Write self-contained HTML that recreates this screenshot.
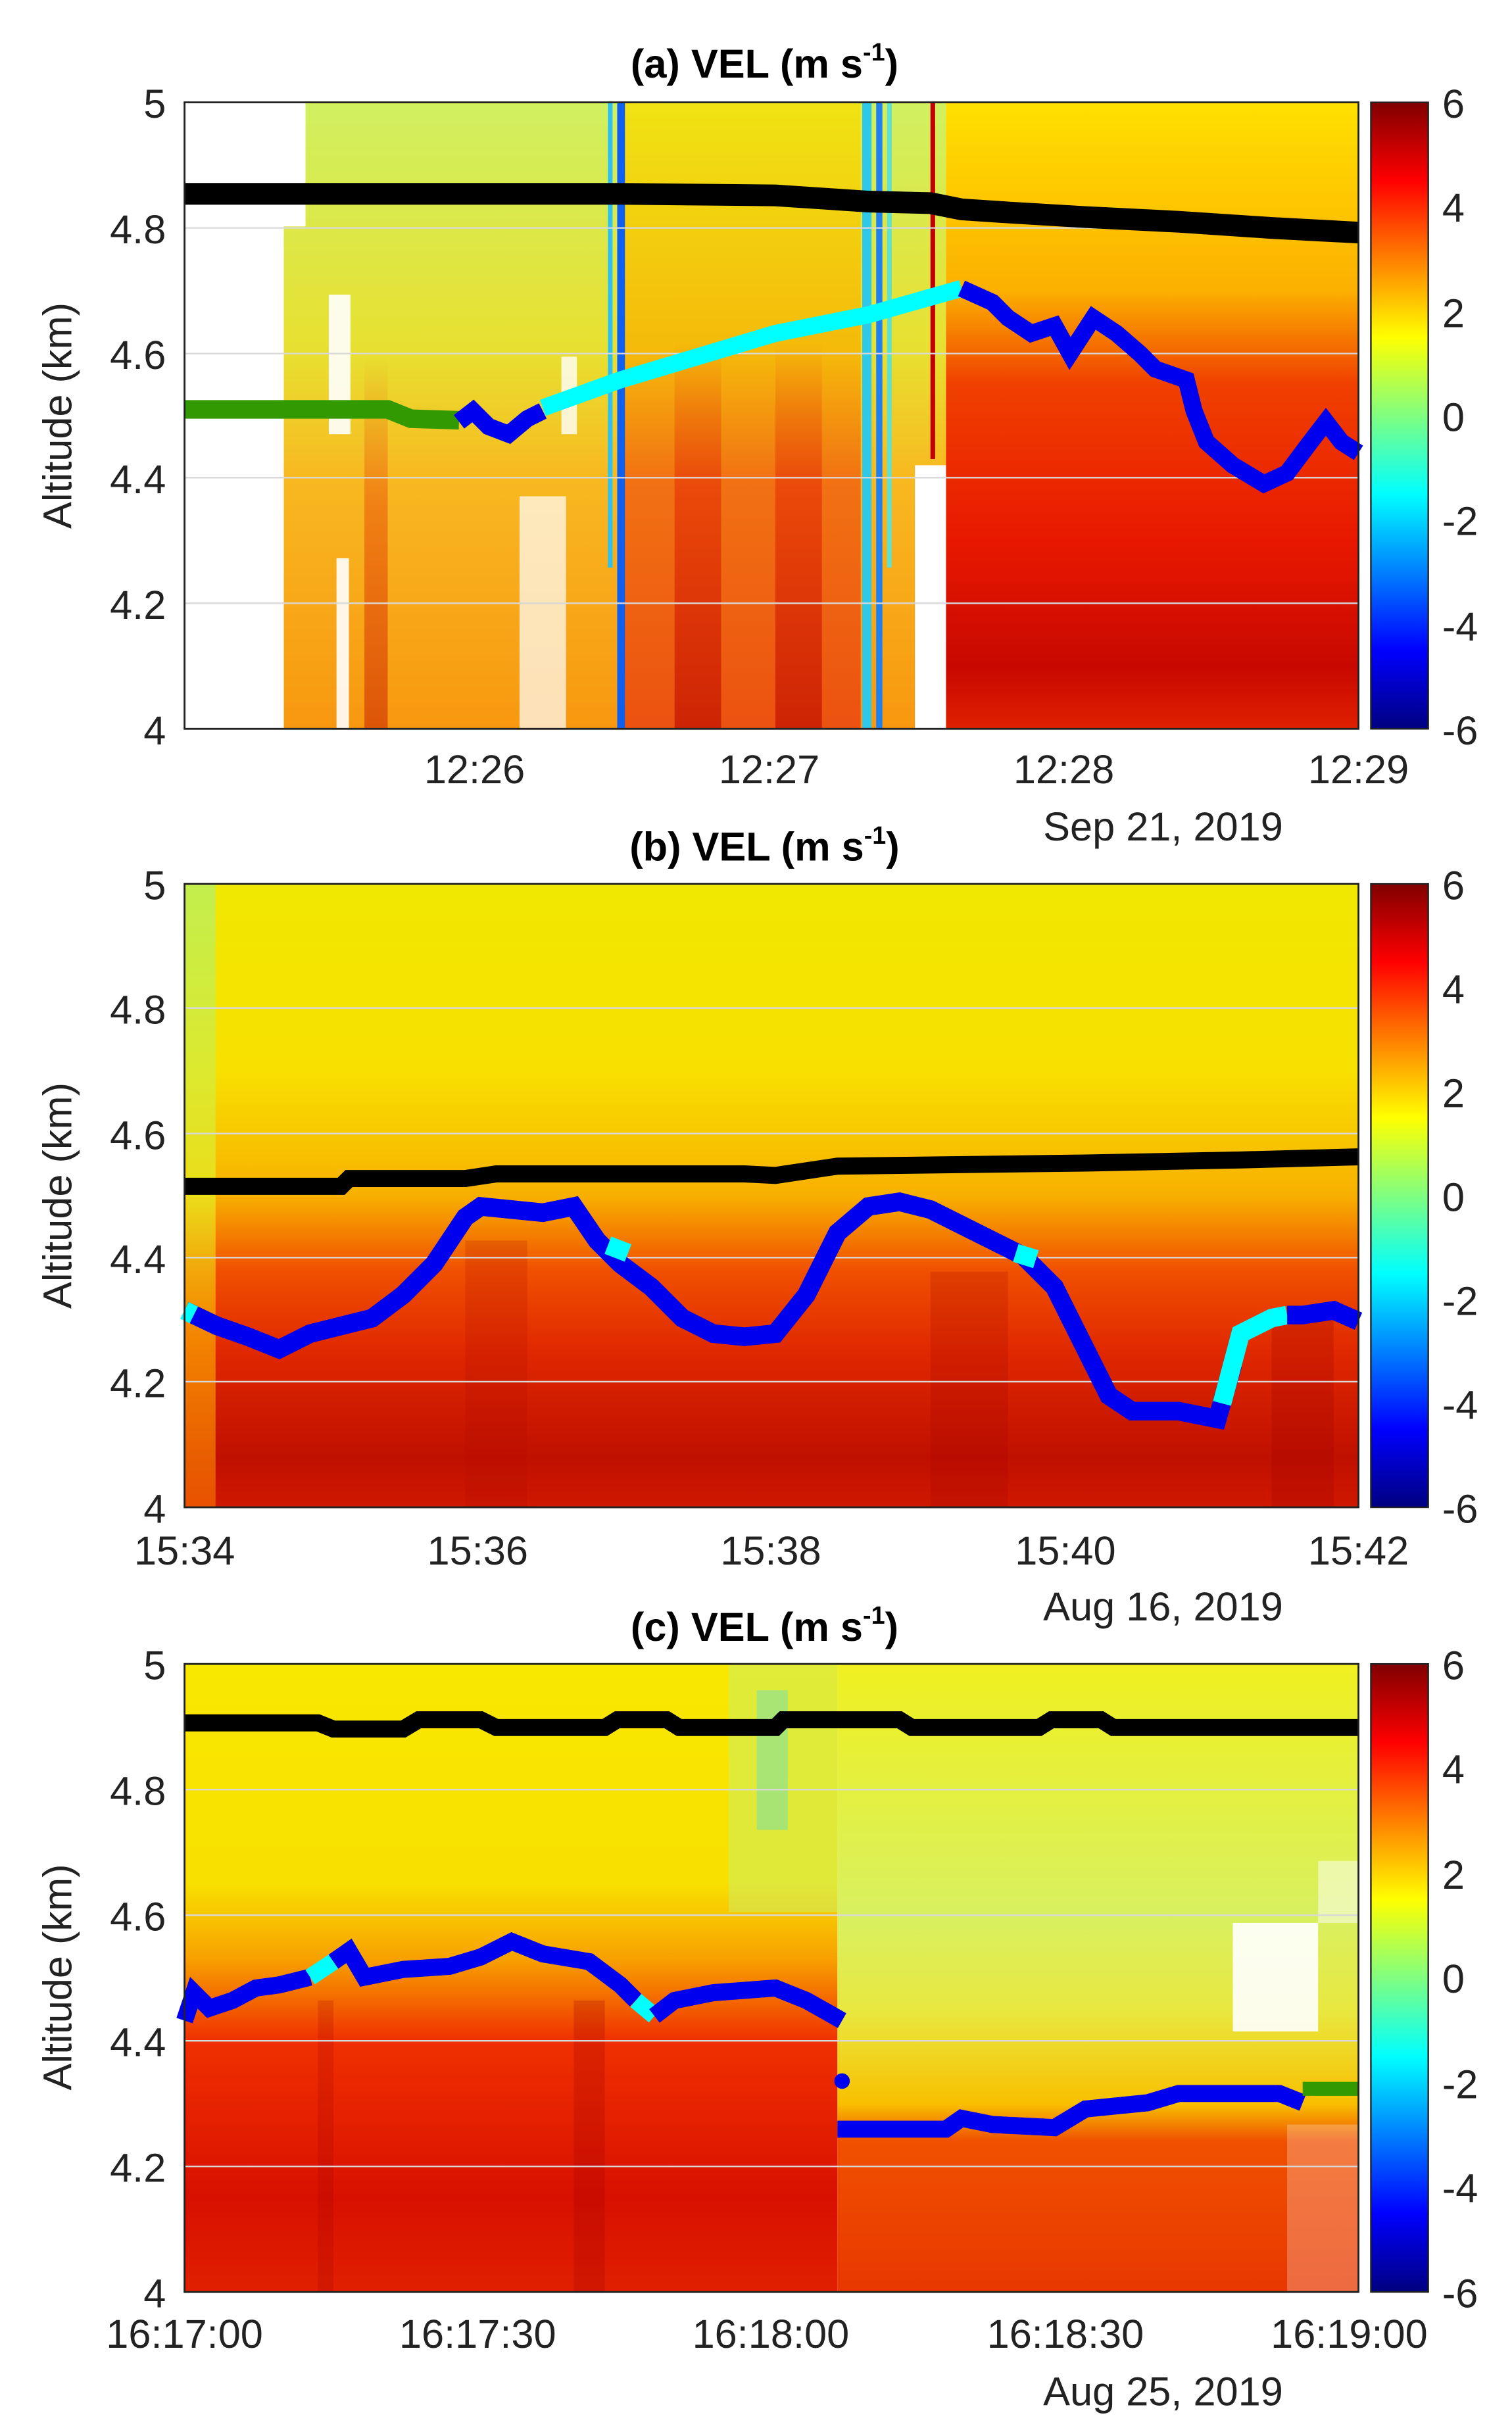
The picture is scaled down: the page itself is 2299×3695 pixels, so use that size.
<!DOCTYPE html>
<html><head><meta charset="utf-8"><style>html,body{margin:0;padding:0;background:#fff}svg{display:block}</style></head>
<body>
<svg width="2299" height="3695" viewBox="0 0 975 1567" preserveAspectRatio="none" xmlns="http://www.w3.org/2000/svg" font-family="Liberation Sans, sans-serif">
<defs>
<linearGradient id="jet" x1="0" y1="0" x2="0" y2="1">
<stop offset="0" stop-color="#800000"/><stop offset="0.125" stop-color="#ff0000"/><stop offset="0.375" stop-color="#ffff00"/><stop offset="0.5" stop-color="#80ff80"/><stop offset="0.625" stop-color="#00ffff"/><stop offset="0.875" stop-color="#0000ff"/><stop offset="1" stop-color="#000080"/></linearGradient>
<linearGradient id="aL" x1="0" y1="0" x2="0" y2="1">
<stop offset="0" stop-color="#d0f060"/><stop offset="0.4" stop-color="#e8e030"/><stop offset="0.6" stop-color="#f8b820"/><stop offset="1" stop-color="#f89810"/></linearGradient>
<linearGradient id="aM" x1="0" y1="0" x2="0" y2="1">
<stop offset="0" stop-color="#f8e000"/><stop offset="0.4" stop-color="#f8b000"/><stop offset="0.6" stop-color="#f06010"/><stop offset="1" stop-color="#e84010"/></linearGradient>
<linearGradient id="aR" x1="0" y1="0" x2="0" y2="1">
<stop offset="0" stop-color="#ffe000"/><stop offset="0.3" stop-color="#fcb000"/><stop offset="0.45" stop-color="#f04000"/><stop offset="0.7" stop-color="#e81800"/><stop offset="0.9" stop-color="#c80800"/><stop offset="1" stop-color="#e02000"/></linearGradient>
<linearGradient id="red" x1="0" y1="0" x2="0" y2="1">
<stop offset="0" stop-color="#e02000" stop-opacity="0"/><stop offset="0.4" stop-color="#e02000" stop-opacity="0.5"/><stop offset="1" stop-color="#c01000" stop-opacity="0.7"/></linearGradient>
<linearGradient id="bG" x1="0" y1="0" x2="0" y2="1">
<stop offset="0" stop-color="#f0e800"/><stop offset="0.3" stop-color="#f8e000"/><stop offset="0.5" stop-color="#f8b000"/><stop offset="0.62" stop-color="#f05000"/><stop offset="0.75" stop-color="#e02800"/><stop offset="0.92" stop-color="#c01000"/><stop offset="1" stop-color="#d01800"/></linearGradient>
<linearGradient id="bL" x1="0" y1="0" x2="0" y2="1">
<stop offset="0" stop-color="#b8f060"/><stop offset="0.5" stop-color="#e8e820"/><stop offset="0.7" stop-color="#f8a000"/><stop offset="1" stop-color="#f06000"/></linearGradient>
<linearGradient id="cL" x1="0" y1="0" x2="0" y2="1">
<stop offset="0" stop-color="#f8e800"/><stop offset="0.35" stop-color="#f8e000"/><stop offset="0.47" stop-color="#f8a000"/><stop offset="0.6" stop-color="#f03000"/><stop offset="0.85" stop-color="#d81000"/><stop offset="1" stop-color="#e02000"/></linearGradient>
<linearGradient id="cR" x1="0" y1="0" x2="0" y2="1">
<stop offset="0" stop-color="#f0f020"/><stop offset="0.4" stop-color="#d8f060"/><stop offset="0.55" stop-color="#e8e840"/><stop offset="0.7" stop-color="#f8c000"/><stop offset="0.76" stop-color="#f05000"/><stop offset="1" stop-color="#e83800"/></linearGradient>
</defs>

<!-- ===== Panel A ===== -->
<text x="493" y="50" font-size="26" font-weight="bold" text-anchor="middle">(a) VEL (m s<tspan font-size="16" dy="-11">-1</tspan><tspan dy="11">)</tspan></text>
<rect x="119" y="66" width="757" height="404" fill="#fff"/>
<rect x="183" y="66" width="427" height="404" fill="url(#aL)"/>
<rect x="400" y="66" width="155" height="404" fill="url(#aM)" opacity="0.8"/>
<rect x="610" y="66" width="266" height="404" fill="url(#aR)"/>
<rect x="183" y="66" width="14" height="80" fill="#fff"/>
<rect x="212" y="190" width="14" height="90" fill="#fff" opacity="0.9"/>
<rect x="217" y="360" width="8" height="110" fill="#fff" opacity="0.9"/>
<rect x="335" y="320" width="30" height="150" fill="#fff" opacity="0.7"/>
<rect x="362" y="230" width="10" height="50" fill="#fff" opacity="0.8"/>
<rect x="590" y="300" width="20" height="170" fill="#fff"/>
<rect x="435" y="220" width="30" height="250" fill="url(#red)"/>
<rect x="500" y="220" width="30" height="250" fill="url(#red)"/>
<rect x="235" y="230" width="15" height="240" fill="url(#red)" opacity="0.7"/>
<rect x="398" y="66" width="5" height="404" fill="#1060f0"/>
<rect x="392" y="66" width="3" height="300" fill="#30c0f0"/>
<rect x="556" y="66" width="6" height="404" fill="#30c8e8"/>
<rect x="565" y="66" width="4" height="404" fill="#2080f0"/>
<rect x="572" y="66" width="3" height="300" fill="#60e0d0"/>
<rect x="600" y="66" width="3" height="230" fill="#c00000"/>
<g stroke="#d8d8d8" stroke-width="1"><line x1="119" y1="147" x2="876" y2="147"/><line x1="119" y1="228" x2="876" y2="228"/><line x1="119" y1="308" x2="876" y2="308"/><line x1="119" y1="389" x2="876" y2="389"/></g>
<polyline fill="none" stroke="#000" stroke-width="14" points="119,125 300,125 400,125 500,126 560,130 600,131 620,135 650,137 700,140 760,143 820,147 876,150"/>
<polyline fill="none" stroke="#339900" stroke-width="12" points="119,264 250,264 265,270 296,271"/>
<polyline fill="none" stroke="#0000ee" stroke-width="11" points="296,272 305,265 315,275 328,280 340,270 350,265"/>
<polyline fill="none" stroke="#00ffff" stroke-width="11" points="350,263 400,245 450,230 500,215 560,203 620,186"/>
<polyline fill="none" stroke="#0000ee" stroke-width="11" points="620,186 640,195 650,205 665,215 680,210 690,228 705,205 720,215 735,228 745,238 765,245 770,265 778,285 795,300 815,312 830,305 845,285 855,272 865,285 876,292"/>
<rect x="119" y="66" width="757" height="404" fill="none" stroke="#222" stroke-width="1.2"/>
<g font-size="26" fill="#222" text-anchor="end"><text x="107" y="76">5</text><text x="107" y="157">4.8</text><text x="107" y="238">4.6</text><text x="107" y="318">4.4</text><text x="107" y="399">4.2</text><text x="107" y="480">4</text></g>
<text transform="translate(46,268) rotate(-90)" font-size="26" fill="#222" text-anchor="middle">Altitude (km)</text>
<g font-size="26" fill="#222" text-anchor="middle"><text x="306" y="505">12:26</text><text x="496" y="505">12:27</text><text x="686" y="505">12:28</text><text x="876" y="505">12:29</text></g>
<text x="750" y="542" font-size="26" fill="#222" text-anchor="middle">Sep 21, 2019</text>
<rect x="884" y="66" width="37" height="404" fill="url(#jet)" stroke="#222"/>
<g font-size="26" fill="#222"><text x="930" y="76">6</text><text x="930" y="143">4</text><text x="930" y="211">2</text><text x="930" y="278">0</text><text x="930" y="345">-2</text><text x="930" y="413">-4</text><text x="930" y="480">-6</text></g>

<!-- ===== Panel B ===== -->
<text x="493" y="555" font-size="26" font-weight="bold" text-anchor="middle">(b) VEL (m s<tspan font-size="16" dy="-11">-1</tspan><tspan dy="11">)</tspan></text>
<rect x="119" y="570" width="757" height="402" fill="url(#bG)"/>
<rect x="119" y="570" width="20" height="402" fill="url(#bL)" opacity="0.8"/>
<rect x="300" y="800" width="40" height="172" fill="#b00800" opacity="0.2"/>
<rect x="600" y="820" width="50" height="152" fill="#a00000" opacity="0.2"/>
<rect x="820" y="850" width="40" height="122" fill="#a00000" opacity="0.25"/>
<g stroke="#d8d8d8" stroke-width="1"><line x1="119" y1="650" x2="876" y2="650"/><line x1="119" y1="731" x2="876" y2="731"/><line x1="119" y1="811" x2="876" y2="811"/><line x1="119" y1="891" x2="876" y2="891"/></g>
<polyline fill="none" stroke="#000" stroke-width="11" points="119,765 220,765 225,760 300,760 320,757 480,757 500,758 540,752 700,750 800,748 876,746"/>
<polyline fill="none" stroke="#0000ee" stroke-width="12" points="119,845 140,855 160,862 180,870 200,860 220,855 240,850 260,835 280,815 300,785 310,778 330,780 350,782 370,778 385,800 400,815 420,830 440,850 460,860 480,862 500,860 520,835 540,795 560,778 580,775 600,780 620,790 640,800 660,810 680,830 700,870 715,900 730,910 760,910 785,915 795,880"/>
<polyline fill="none" stroke="#00ffff" stroke-width="12" points="119,845 125,848"/>
<polyline fill="none" stroke="#00ffff" stroke-width="12" points="392,803 405,808"/>
<polyline fill="none" stroke="#00ffff" stroke-width="12" points="655,808 668,812"/>
<polyline fill="none" stroke="#00ffff" stroke-width="12" points="788,905 800,860 820,850 830,848"/>
<polyline fill="none" stroke="#0000ee" stroke-width="12" points="830,848 840,848 860,845 876,852"/>
<rect x="119" y="570" width="757" height="402" fill="none" stroke="#222" stroke-width="1.2"/>
<g font-size="26" fill="#222" text-anchor="end"><text x="107" y="580">5</text><text x="107" y="660">4.8</text><text x="107" y="741">4.6</text><text x="107" y="821">4.4</text><text x="107" y="901">4.2</text><text x="107" y="982">4</text></g>
<text transform="translate(46,771) rotate(-90)" font-size="26" fill="#222" text-anchor="middle">Altitude (km)</text>
<g font-size="26" fill="#222" text-anchor="middle"><text x="119" y="1009">15:34</text><text x="308" y="1009">15:36</text><text x="497" y="1009">15:38</text><text x="687" y="1009">15:40</text><text x="876" y="1009">15:42</text></g>
<text x="750" y="1045" font-size="26" fill="#222" text-anchor="middle">Aug 16, 2019</text>
<rect x="884" y="570" width="37" height="402" fill="url(#jet)" stroke="#222"/>
<g font-size="26" fill="#222"><text x="930" y="580">6</text><text x="930" y="647">4</text><text x="930" y="714">2</text><text x="930" y="781">0</text><text x="930" y="848">-2</text><text x="930" y="915">-4</text><text x="930" y="982">-6</text></g>

<!-- ===== Panel C ===== -->
<text x="493" y="1058" font-size="26" font-weight="bold" text-anchor="middle">(c) VEL (m s<tspan font-size="16" dy="-11">-1</tspan><tspan dy="11">)</tspan></text>
<rect x="119" y="1073" width="421" height="405" fill="url(#cL)"/>
<rect x="540" y="1073" width="336" height="405" fill="url(#cR)"/>
<rect x="470" y="1073" width="70" height="160" fill="#c8f070" opacity="0.5"/>
<rect x="488" y="1090" width="20" height="90" fill="#70e0b0" opacity="0.5"/>
<rect x="795" y="1240" width="55" height="70" fill="#fff" opacity="0.9"/>
<rect x="850" y="1200" width="26" height="40" fill="#fff" opacity="0.5"/>
<rect x="830" y="1370" width="46" height="108" fill="#fff" opacity="0.25"/>
<rect x="370" y="1290" width="20" height="188" fill="#a00000" opacity="0.25"/>
<rect x="205" y="1290" width="10" height="188" fill="#a00000" opacity="0.2"/>
<g stroke="#d8d8d8" stroke-width="1"><line x1="119" y1="1154" x2="876" y2="1154"/><line x1="119" y1="1235" x2="876" y2="1235"/><line x1="119" y1="1316" x2="876" y2="1316"/><line x1="119" y1="1397" x2="876" y2="1397"/></g>
<polyline fill="none" stroke="#000" stroke-width="11" points="119,1111 205,1111 215,1115 260,1115 270,1109 310,1109 320,1114 390,1114 398,1109 430,1109 438,1114 500,1114 505,1109 580,1109 588,1114 670,1114 678,1109 710,1109 718,1114 876,1114"/>
<polyline fill="none" stroke="#0000ee" stroke-width="11" points="119,1303 125,1285 135,1295 150,1290 165,1282 180,1280 200,1275"/>
<polyline fill="none" stroke="#00ffff" stroke-width="11" points="200,1275 215,1265"/>
<polyline fill="none" stroke="#0000ee" stroke-width="11" points="215,1265 225,1258 235,1275 260,1270 290,1268 310,1262 330,1252 350,1260 380,1265 400,1280 410,1290"/>
<polyline fill="none" stroke="#00ffff" stroke-width="11" points="410,1290 422,1300"/>
<polyline fill="none" stroke="#0000ee" stroke-width="11" points="422,1300 435,1290 460,1285 500,1282 520,1290 543,1303"/>
<circle cx="543" cy="1342" r="5" fill="#0000ee"/>
<polyline fill="none" stroke="#0000ee" stroke-width="11" points="540,1373 610,1373 620,1366 640,1370 680,1372 700,1360 740,1356 760,1350 800,1350 825,1350 840,1356"/>
<polyline fill="none" stroke="#339900" stroke-width="9" points="840,1347 876,1347"/>
<rect x="119" y="1073" width="757" height="405" fill="none" stroke="#222" stroke-width="1.2"/>
<g font-size="26" fill="#222" text-anchor="end"><text x="107" y="1083">5</text><text x="107" y="1164">4.8</text><text x="107" y="1245">4.6</text><text x="107" y="1326">4.4</text><text x="107" y="1407">4.2</text><text x="107" y="1488">4</text></g>
<text transform="translate(46,1275) rotate(-90)" font-size="26" fill="#222" text-anchor="middle">Altitude (km)</text>
<g font-size="26" fill="#222" text-anchor="middle"><text x="119" y="1514">16:17:00</text><text x="308" y="1514">16:17:30</text><text x="497" y="1514">16:18:00</text><text x="687" y="1514">16:18:30</text><text x="870" y="1514">16:19:00</text></g>
<text x="750" y="1551" font-size="26" fill="#222" text-anchor="middle">Aug 25, 2019</text>
<rect x="884" y="1073" width="37" height="405" fill="url(#jet)" stroke="#222"/>
<g font-size="26" fill="#222"><text x="930" y="1083">6</text><text x="930" y="1150">4</text><text x="930" y="1218">2</text><text x="930" y="1285">0</text><text x="930" y="1353">-2</text><text x="930" y="1420">-4</text><text x="930" y="1488">-6</text></g>
</svg>
</body></html>
